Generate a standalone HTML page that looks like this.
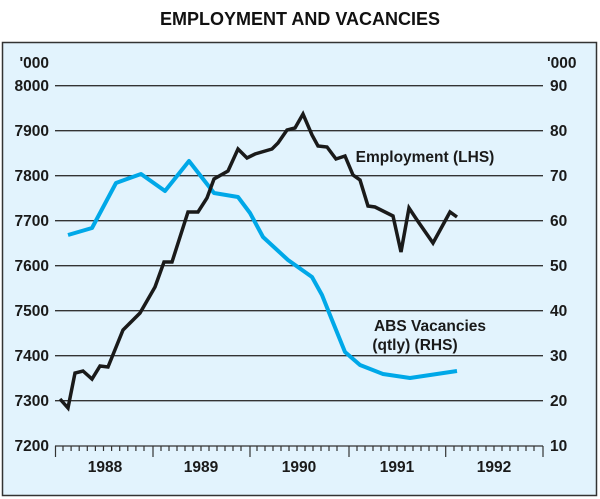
<!DOCTYPE html>
<html><head><meta charset="utf-8"><style>
body{margin:0;background:#fff;}
svg{display:block;font-family:"Liberation Sans",Arial,sans-serif;}
</style></head><body>
<svg width="600" height="499" viewBox="0 0 600 499" xmlns="http://www.w3.org/2000/svg">
<text x="300" y="25" text-anchor="middle" font-size="18" font-weight="bold" fill="#111">EMPLOYMENT AND VACANCIES</text>
<rect x="2.5" y="42.5" width="594" height="453" fill="#e2f3fd" stroke="#333" stroke-width="1.5"/>
<g stroke="#333" stroke-width="1.3">
<line x1="55" y1="85.7" x2="543" y2="85.7"/>
<line x1="55" y1="130.7" x2="543" y2="130.7"/>
<line x1="55" y1="175.7" x2="543" y2="175.7"/>
<line x1="55" y1="220.7" x2="543" y2="220.7"/>
<line x1="55" y1="265.7" x2="543" y2="265.7"/>
<line x1="55" y1="310.7" x2="543" y2="310.7"/>
<line x1="55" y1="355.7" x2="543" y2="355.7"/>
<line x1="55" y1="400.7" x2="543" y2="400.7"/>
<line x1="55" y1="446" x2="543" y2="446"/>
</g>
<g font-size="15.5" font-weight="bold" fill="#1a1a1a" text-anchor="end">
<text x="49" y="68">'000</text>
<text x="49" y="91">8000</text><text x="49" y="136">7900</text><text x="49" y="181">7800</text>
<text x="49" y="226">7700</text><text x="49" y="271">7600</text><text x="49" y="316">7500</text>
<text x="49" y="361">7400</text><text x="49" y="406">7300</text><text x="49" y="451">7200</text>
</g>
<g font-size="15.5" font-weight="bold" fill="#1a1a1a">
<text x="547" y="68">'000</text>
<text x="550" y="91">90</text><text x="550" y="136">80</text><text x="550" y="181">70</text>
<text x="550" y="226">60</text><text x="550" y="271">50</text><text x="550" y="316">40</text>
<text x="550" y="361">30</text><text x="550" y="406">20</text><text x="550" y="451">10</text>
</g>
<g font-size="15.5" font-weight="bold" fill="#1a1a1a" text-anchor="middle">
<text x="105" y="472">1988</text><text x="201" y="472">1989</text><text x="299" y="472">1990</text>
<text x="397" y="472">1991</text><text x="494" y="472">1992</text>
</g>
<polyline fill="none" stroke="#00a8e8" stroke-width="4" stroke-linejoin="round" points="68,235 92,228 116,183 141,174 165,191 189,161 214,193 238,197 250,213 263,237 288,260 312,277 322,295 332,320 345,352 360,365 383,374 410,378 457,371"/>
<polyline fill="none" stroke="#1a1a1a" stroke-width="3.5" stroke-linejoin="miter" points="60,399 68,408 75,373 83,371 92,379 100,366 108,367 123,330 140,313 155,287 164,262 172,262 188,212 198,212 207,198 214,179 228,171 238,149 247,158 255,154 272,149 278,143 287,130 295,128 303,114 312,135 318,146 327,147 336,159 345,156 353,175 360,180 368,206 375,207 393,216 401,252 409,208 417,220 433,243 450,212 457,217"/>
<text x="425" y="162" font-size="15.5" font-weight="bold" fill="#1a1a1a" text-anchor="middle">Employment (LHS)</text>
<text x="430" y="331" font-size="15.5" font-weight="bold" fill="#1a1a1a" text-anchor="middle">ABS Vacancies</text>
<text x="415" y="350" font-size="15.5" font-weight="bold" fill="#1a1a1a" text-anchor="middle">(qtly) (RHS)</text>
<g stroke="#333" stroke-width="1.2">
<path d="M55.5 446V457 M153 446V457 M250 446V457 M349 446V457 M445.7 446V457 M543 446V457"/>
<path d="M63 446v5M71.1 446v5M79.2 446v5M87.3 446v5M95.4 446v5M103.5 446v5M111.6 446v5M119.7 446v5M127.8 446v5M135.9 446v5M144 446v5
M161 446v5M169 446v5M177 446v5M185 446v5M193 446v5M201 446v5M209 446v5M217 446v5M225 446v5M233 446v5M241 446v5
M257 446v5M265 446v5M273 446v5M281 446v5M289 446v5M297 446v5M305 446v5M313 446v5M321 446v5M329 446v5M337 446v5
M357 446v5M365 446v5M373 446v5M381 446v5M389 446v5M397 446v5M405 446v5M413 446v5M421 446v5M429 446v5M437 446v5
M454 446v5M462 446v5M470 446v5M478 446v5M486 446v5M494 446v5M502 446v5M510 446v5M518 446v5M526 446v5M534 446v5"/>
</g>
</svg>
</body></html>
